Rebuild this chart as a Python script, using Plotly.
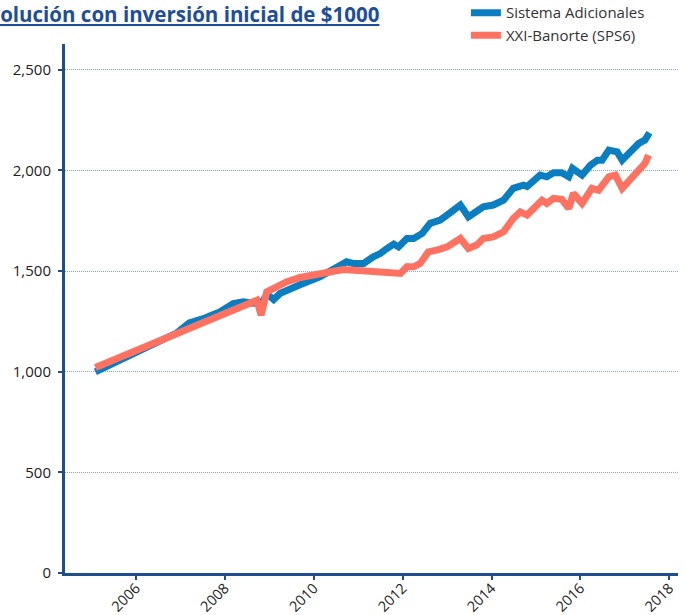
import plotly.graph_objects as go

blue_dates = ["2005-02-01", "2005-07-01", "2006-01-01", "2006-07-01", "2006-12-01", "2007-03-15",
              "2007-07-01", "2007-11-20", "2008-03-10", "2008-06-01", "2008-08-15", "2008-11-01",
              "2008-12-15", "2009-02-05", "2009-04-01", "2009-05-20", "2009-09-10", "2010-02-20",
              "2010-07-10", "2010-09-28", "2010-11-20", "2011-02-15", "2011-05-05", "2011-07-01",
              "2011-08-25", "2011-10-20", "2011-11-28", "2012-02-05", "2012-04-01", "2012-06-10",
              "2012-08-15", "2012-11-05", "2013-01-25", "2013-04-20", "2013-06-25", "2013-09-01",
              "2013-10-25", "2014-01-15", "2014-04-10", "2014-06-28", "2014-09-20", "2014-10-20",
              "2014-12-15", "2015-02-05", "2015-04-01", "2015-05-25", "2015-08-01", "2015-09-28",
              "2015-10-28", "2016-01-15", "2016-03-25", "2016-05-20", "2016-06-28", "2016-08-22",
              "2016-10-30", "2016-12-10", "2017-02-15", "2017-04-25", "2017-06-15", "2017-07-22"]
blue_values = [999, 1045, 1092, 1148, 1192, 1242,
               1262, 1297, 1339, 1347, 1340, 1345,
               1385, 1358, 1390, 1405, 1432, 1471,
               1521, 1546, 1538, 1538, 1571, 1587,
               1612, 1634, 1620, 1662, 1662, 1687,
               1737, 1753, 1789, 1828, 1769, 1794,
               1819, 1828, 1852, 1911, 1927, 1920,
               1950, 1977, 1968, 1988, 1988, 1968,
               2010, 1977, 2026, 2051, 2051, 2101,
               2092, 2051, 2092, 2134, 2151, 2187]

red_dates = ["2005-02-01", "2006-01-01", "2007-01-01", "2008-01-01", "2008-05-01", "2008-08-20",
             "2008-09-20", "2008-10-25", "2008-12-10", "2009-02-01", "2009-05-20", "2009-09-10",
             "2010-02-20", "2010-09-01", "2011-01-01", "2011-07-01", "2011-12-15", "2012-02-05",
             "2012-04-01", "2012-05-25", "2012-07-30", "2012-10-08", "2013-01-01", "2013-04-20",
             "2013-06-25", "2013-09-01", "2013-10-25", "2014-01-15", "2014-04-10", "2014-06-28",
             "2014-08-25", "2014-10-20", "2014-12-15", "2015-02-20", "2015-04-01", "2015-05-25",
             "2015-08-01", "2015-09-28", "2015-11-05", "2016-01-15", "2016-04-05", "2016-05-30",
             "2016-08-22", "2016-10-15", "2016-12-10", "2017-02-15", "2017-04-25", "2017-06-15",
             "2017-07-15"]
red_values = [1021, 1104, 1195, 1283, 1314, 1347,
              1355, 1281, 1397, 1413, 1446, 1468,
              1488, 1508, 1503, 1496, 1488, 1521,
              1521, 1538, 1595, 1604, 1620, 1662,
              1612, 1629, 1662, 1670, 1695, 1761,
              1794, 1778, 1811, 1852, 1836, 1861,
              1856, 1811, 1886, 1836, 1911, 1902,
              1968, 1977, 1911, 1960, 2001, 2035,
              2076]

series_names = ["Sistema Adicionales", "XXI-Banorte (SPS6)"]
title_text = "Evolución con inversión inicial de $1000"
x_tick_vals = ["2006-01-01", "2008-01-01", "2010-01-01", "2012-01-01", "2014-01-01", "2016-01-01", "2018-01-01"]
x_tick_text = ["2006", "2008", "2010", "2012", "2014", "2016", "2018"]
y_tick_vals = [0, 500, 1000, 1500, 2000, 2500]

axis_color = "#1F4E8C"
font_family = "Open Sans, Noto Sans, sans-serif"

fig = go.Figure()
fig.add_trace(go.Scatter(x=blue_dates, y=blue_values, mode="lines", name=series_names[0],
                         line=dict(color="#0B7DC1", width=7)))
fig.add_trace(go.Scatter(x=red_dates, y=red_values, mode="lines", name=series_names[1],
                         line=dict(color="#FF7262", width=7)))

fig.update_layout(
    width=685, height=615,
    margin=dict(l=65, r=7, t=44, b=42, autoexpand=False),
    paper_bgcolor="white", plot_bgcolor="white",
    font=dict(family=font_family, size=14, color="#222222"),
    showlegend=True,
    legend=dict(x=0.654, y=1.09, xanchor="left", yanchor="top",
                font=dict(size=15, color="#333333"), bgcolor="rgba(0,0,0,0)",
                itemwidth=30, tracegroupgap=0),
    annotations=[dict(text="<b><u>" + title_text + "</u></b>", xref="paper", yref="paper",
                      x=0.515, y=1.057, xanchor="right", yanchor="middle", showarrow=False,
                      font=dict(size=20.5, color="#1F4E99", family=font_family))],
)

fig.update_xaxes(
    type="date", range=["2004-05-27", "2018-03-14"],
    tickvals=x_tick_vals, ticktext=x_tick_text, tickangle=-45,
    showgrid=False, zeroline=False,
    showline=True, linecolor=axis_color, linewidth=3,
    ticks="outside", ticklen=4, tickwidth=2, tickcolor=axis_color,
    tickfont=dict(size=14.5, color="#222222"),
    ticklabelstandoff=-6,
)
fig.update_yaxes(
    range=[0, 2628], tickvals=y_tick_vals, tickformat=",d",
    showgrid=True, gridcolor="#86A4D6", gridwidth=1, griddash="1px,1px",
    zeroline=False,
    showline=True, linecolor=axis_color, linewidth=3,
    ticks="outside", ticklen=4, tickwidth=2, tickcolor=axis_color,
    tickfont=dict(size=15, color="#222222"),
    ticklabelstandoff=4,
)

fig.write_html("out.html", config={"displayModeBar": False},
               post_script="document.body.style.margin='0';")
